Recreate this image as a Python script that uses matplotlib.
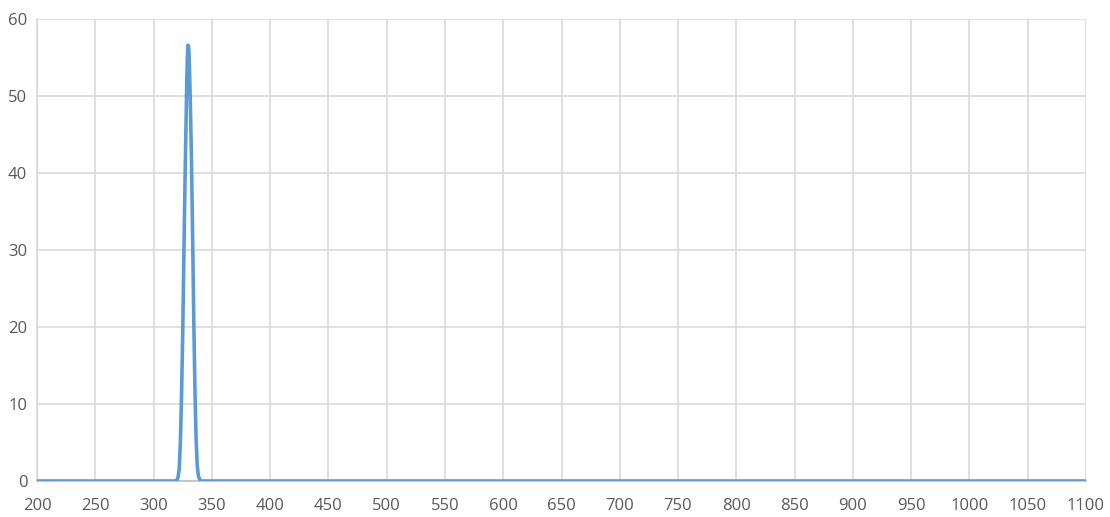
import matplotlib.pyplot as plt

# wavelength (nm) and value
wavelength = [200, 300, 318, 320, 321, 322, 323, 324, 325, 326, 327, 328, 328.5,
              329, 329.4, 329.7, 330.1, 330.5, 331, 331.5, 332.5, 333.5, 334.5,
              335.5, 336.5, 337.5, 338.5, 340, 342, 400, 600, 800, 1000, 1100]
value = [0, 0, 0, 0.1, 0.5, 1.5, 5, 11, 19, 29, 39, 47.5, 52,
         55, 56.3, 56.6, 56.3, 55.2, 52.5, 49.5, 42, 32, 21,
         12, 5.5, 2, 0.6, 0.1, 0, 0, 0, 0, 0, 0]

X_TICKS = list(range(200, 1101, 50))
Y_TICKS = list(range(0, 61, 10))

plt.rcParams['font.family'] = ['Open Sans', 'DejaVu Sans']

fig = plt.figure(figsize=(11.1, 5.17), dpi=100)
ax = fig.add_axes([37 / 1110, 36 / 517, (1086 - 37) / 1110, (481 - 19) / 517])

ax.plot(wavelength, value, color='#5B9BD5', linewidth=2.6, zorder=3,
        solid_joinstyle='round')

ax.set_xlim(200, 1100)
ax.set_ylim(0, 60)
ax.set_xticks(X_TICKS)
ax.set_yticks(Y_TICKS)
ax.grid(True, color='#D9D9D9', linewidth=1.2)
ax.tick_params(length=0, labelsize=12, labelcolor='#595959')
ax.tick_params(axis='x', pad=12)
ax.tick_params(axis='y', pad=7)

for side in ['top', 'right']:
    ax.spines[side].set_visible(False)
ax.spines['left'].set_color('#D9D9D9')
ax.spines['bottom'].set_color('#BFBFBF')
ax.spines['left'].set_linewidth(1.2)
ax.spines['bottom'].set_linewidth(1.2)

fig.savefig('out.png', dpi=100)
